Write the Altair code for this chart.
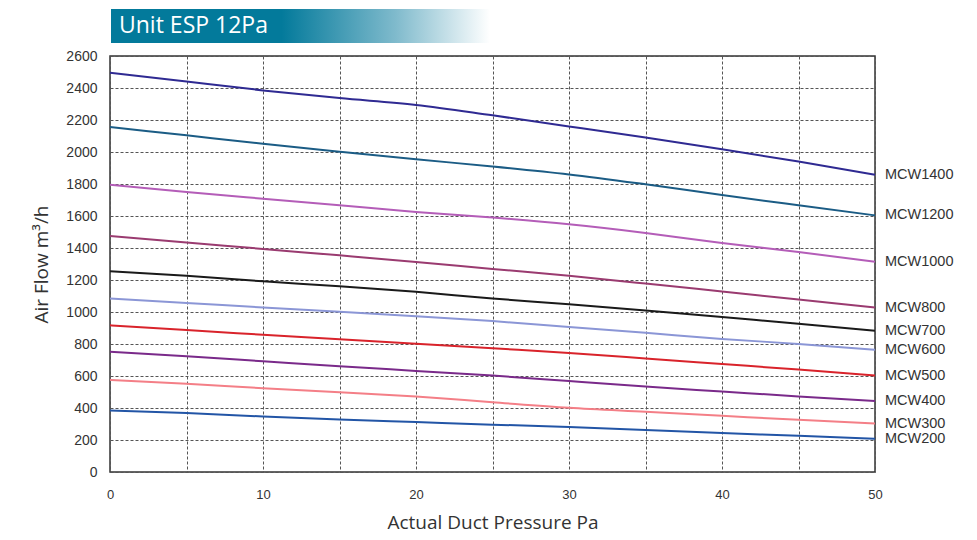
import altair as alt
import pandas as pd

pressure = [0, 5, 10, 15, 20, 25, 30, 35, 40, 45, 50]

models = ["MCW1400", "MCW1200", "MCW1000", "MCW800", "MCW700",
          "MCW600", "MCW500", "MCW400", "MCW300", "MCW200"]

mcw1400 = [2496, 2440, 2385, 2337, 2294, 2229, 2160, 2090, 2017, 1940, 1858]
mcw1200 = [2156, 2104, 2052, 2002, 1954, 1910, 1860, 1798, 1731, 1667, 1604]
mcw1000 = [1796, 1750, 1708, 1667, 1625, 1590, 1548, 1494, 1431, 1375, 1314]
mcw800 = [1475, 1435, 1394, 1354, 1313, 1269, 1226, 1178, 1128, 1078, 1028]
mcw700 = [1255, 1226, 1192, 1161, 1126, 1084, 1049, 1010, 968, 927, 883]
mcw600 = [1084, 1057, 1028, 1002, 974, 943, 907, 870, 832, 800, 764]
mcw500 = [917, 887, 858, 829, 802, 773, 744, 710, 675, 640, 603]
mcw400 = [752, 723, 692, 661, 632, 603, 568, 534, 503, 472, 443]
mcw300 = [576, 551, 524, 499, 472, 436, 401, 376, 351, 326, 303]
mcw200 = [385, 368, 347, 328, 312, 296, 281, 262, 243, 227, 208]

colors = ["#2f2a92", "#1b5c85", "#b45db8", "#9a3b70", "#1a1a1a",
          "#8b96d6", "#d9232b", "#7a2a8a", "#f47f87", "#2255a6"]

series = [mcw1400, mcw1200, mcw1000, mcw800, mcw700,
          mcw600, mcw500, mcw400, mcw300, mcw200]

rows = []
for m, vals in zip(models, series):
    for p, v in zip(pressure, vals):
        rows.append({"model": m, "pressure": p, "flow": v})
df = pd.DataFrame(rows)
ends = df[df["pressure"] == 50]

color_scale = alt.Scale(domain=models, range=colors)

x_enc = alt.X("pressure:Q",
              scale=alt.Scale(domain=[0, 50], nice=False),
              axis=alt.Axis(values=pressure, format="d",
                            labelExpr="datum.value % 10 == 0 ? datum.label : ''",
                            title="Actual Duct Pressure Pa",
                            grid=True, gridDash=[3, 2], gridColor="#555",
                            gridWidth=1, domain=False, ticks=False,
                            labelFlush=False, labelOverlap=False,
                            labelFont="Liberation Sans", labelFontSize=13,
                            labelColor="#333", labelPadding=16,
                            titleFont="Open Sans", titleFontSize=19,
                            titleFontWeight="normal", titleColor="#333",
                            titlePadding=12))
y_enc = alt.Y("flow:Q",
              scale=alt.Scale(domain=[0, 2600], nice=False),
              axis=alt.Axis(values=list(range(0, 2601, 200)), format="d",
                            title="Air Flow m³/h",
                            grid=True, gridDash=[3, 2], gridColor="#555",
                            gridWidth=1, domain=False, ticks=False,
                            labelFlush=False, labelOverlap=False,
                            labelFont="Liberation Sans", labelFontSize=14,
                            labelColor="#333", labelPadding=13,
                            titleFont="Open Sans", titleFontSize=19,
                            titleFontWeight="normal", titleColor="#333",
                            titlePadding=14))

lines = alt.Chart(df).mark_line(strokeWidth=2, interpolate="monotone").encode(
    x=x_enc, y=y_enc,
    color=alt.Color("model:N", scale=color_scale, legend=None),
    detail="model:N",
)

labels = alt.Chart(ends).mark_text(align="left", baseline="middle", dx=10,
                                   font="Liberation Sans", fontSize=14.5,
                                   color="#333").encode(
    x=x_enc, y=y_enc, text="model:N")

banner = alt.Chart(pd.DataFrame({"t": ["Unit ESP 12Pa"]})).mark_rect(
    color=alt.Gradient(gradient="linear", x1=0, x2=1, y1=0, y2=0,
                       stops=[alt.GradientStop(color="#037a9b", offset=0),
                              alt.GradientStop(color="#037a9b", offset=0.45),
                              alt.GradientStop(color="#7fbacc", offset=0.75),
                              alt.GradientStop(color="#ffffff", offset=1)])
).encode(x=alt.value(1), x2=alt.value(380), y=alt.value(-47), y2=alt.value(-13))

banner_text = alt.Chart(pd.DataFrame({"t": ["Unit ESP 12Pa"]})).mark_text(
    align="left", baseline="middle", font="Open Sans", fontSize=23,
    color="white").encode(x=alt.value(9), y=alt.value(-30), text="t:N")

chart = alt.layer(banner, banner_text, lines, labels).properties(
    width=765, height=416,
    autosize=alt.AutoSizeParams(type="none"),
    padding={"left": 110, "top": 56, "right": 102, "bottom": 68},
    background="white",
).configure_view(stroke="#333", strokeWidth=1.5)

chart.save("out.html", embed_options={"renderer": "svg", "actions": False})
